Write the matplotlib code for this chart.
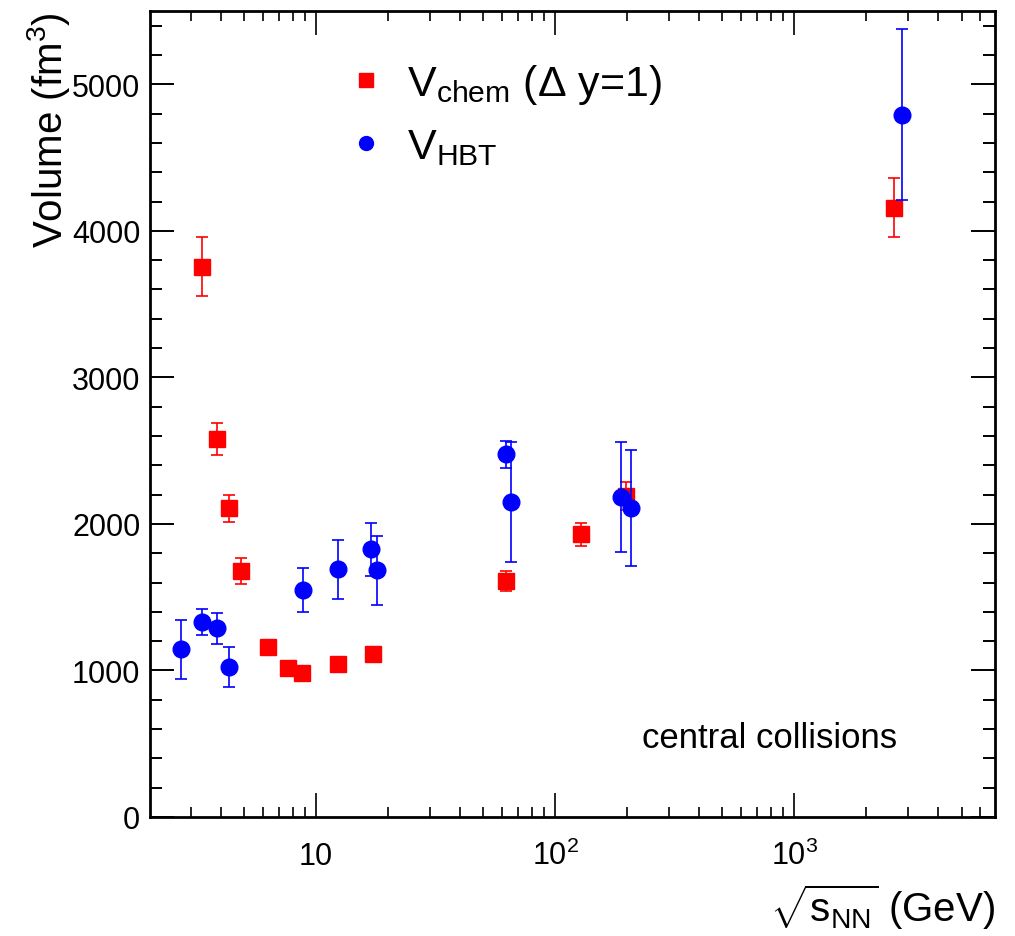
import matplotlib
matplotlib.use("Agg")
import matplotlib.pyplot as plt
from matplotlib.lines import Line2D
from matplotlib.ticker import LogLocator, MultipleLocator, NullFormatter

plt.rcParams['font.family'] = ['Liberation Sans', 'DejaVu Sans']
plt.rcParams['mathtext.fontset'] = 'custom'
plt.rcParams['mathtext.rm'] = 'Liberation Sans'
plt.rcParams['mathtext.it'] = 'Liberation Sans:italic'
plt.rcParams['mathtext.sf'] = 'Liberation Sans'

# ---- data (sqrt(s_NN) in GeV, volume in fm^3) ----
chem_x   = [3.33, 3.85, 4.33, 4.85, 6.3, 7.6, 8.73, 12.4, 17.3, 62.4, 128, 198, 2618]
chem_v   = [3756, 2577, 2106, 1677, 1159, 1016, 982, 1043, 1111, 1609, 1929, 2188, 4158]
chem_err = [200, 110, 90, 90, 40, 40, 40, 40, 40, 68, 80, 95, 200]

hbt_x   = [2.72, 3.33, 3.85, 4.33, 8.83, 12.4, 17.0, 18.0, 62.4, 65.5, 189, 208, 2830]
hbt_v   = [1145, 1329, 1288, 1022, 1547, 1690, 1827, 1684, 2474, 2147, 2181, 2106, 4792]
hbt_err = [200, 90, 105, 135, 150, 200, 180, 235, 90, 410, 375, 395, 585]

RED = "#ff0000"
BLUE = "#0000ff"

fig = plt.figure(figsize=(10.15, 9.37), dpi=100)
ax = fig.add_axes([150 / 1015, 1 - 818 / 937, 845 / 1015, 806 / 937])

ax.errorbar(chem_x, chem_v, yerr=chem_err, fmt="s", color=RED, ms=11,
            mec=RED, elinewidth=1.2, capsize=4.5, capthick=1.2, zorder=3)
ax.errorbar(hbt_x, hbt_v, yerr=hbt_err, fmt="o", color=BLUE, ms=12,
            mec=BLUE, elinewidth=1.2, capsize=4.5, capthick=1.2, zorder=4)

ax.set_xscale("log")
ax.set_xlim(2.02, 6900)
ax.set_ylim(0, 5500)

# ticks, ROOT style
ax.set_xticks([10, 100, 1000], labels=["10", r"$10^{2}$", r"$10^{3}$"])
ax.xaxis.set_minor_locator(LogLocator(base=10, subs=range(2, 10)))
ax.xaxis.set_minor_formatter(NullFormatter())
ax.yaxis.set_major_locator(MultipleLocator(1000))
ax.yaxis.set_minor_locator(MultipleLocator(200))

ax.tick_params(axis="x", which="major", direction="in", length=17, width=1.2,
               top=True, labelsize=22, pad=34)
ax.tick_params(axis="x", which="minor", direction="in", length=7.5, width=1.2, top=True)
ax.tick_params(axis="y", which="major", direction="in", length=17, width=1.4,
               right=True, labelsize=22, pad=7)
ax.tick_params(axis="y", which="minor", direction="in", length=8.5, width=1.4, right=True)
for t in ax.get_xticklabels():
    t.set_verticalalignment("baseline")

for sp in ax.spines.values():
    sp.set_linewidth(2)

# labels
fig.text(48 / 1015, 1 - 12 / 937, r"Volume (fm$^{3}$)", rotation=90,
         ha="center", va="top", fontsize=29)
fig.text(995 / 1015, 1 - 922 / 937, r"$\sqrt{\mathrm{s}_{\mathrm{NN}}}$ (GeV)",
         ha="right", va="baseline", fontsize=29)
ax.text(0.884, 0.087, "central collisions", transform=ax.transAxes,
        ha="right", va="baseline", fontsize=25)

handles = [Line2D([], [], ls="none", marker="s", color=RED, ms=10),
           Line2D([], [], ls="none", marker="o", color=BLUE, ms=10)]
ax.legend(handles, [r"V$_{\mathrm{chem}}$ ($\Delta$ y=1)", r"V$_{\mathrm{HBT}}$"],
          loc="upper left", bbox_to_anchor=(0.230, 0.937), frameon=False,
          fontsize=31, handlelength=1.0, handletextpad=0.45, labelspacing=0.5,
          borderpad=0, borderaxespad=0)

fig.savefig("out.png", dpi=100)
